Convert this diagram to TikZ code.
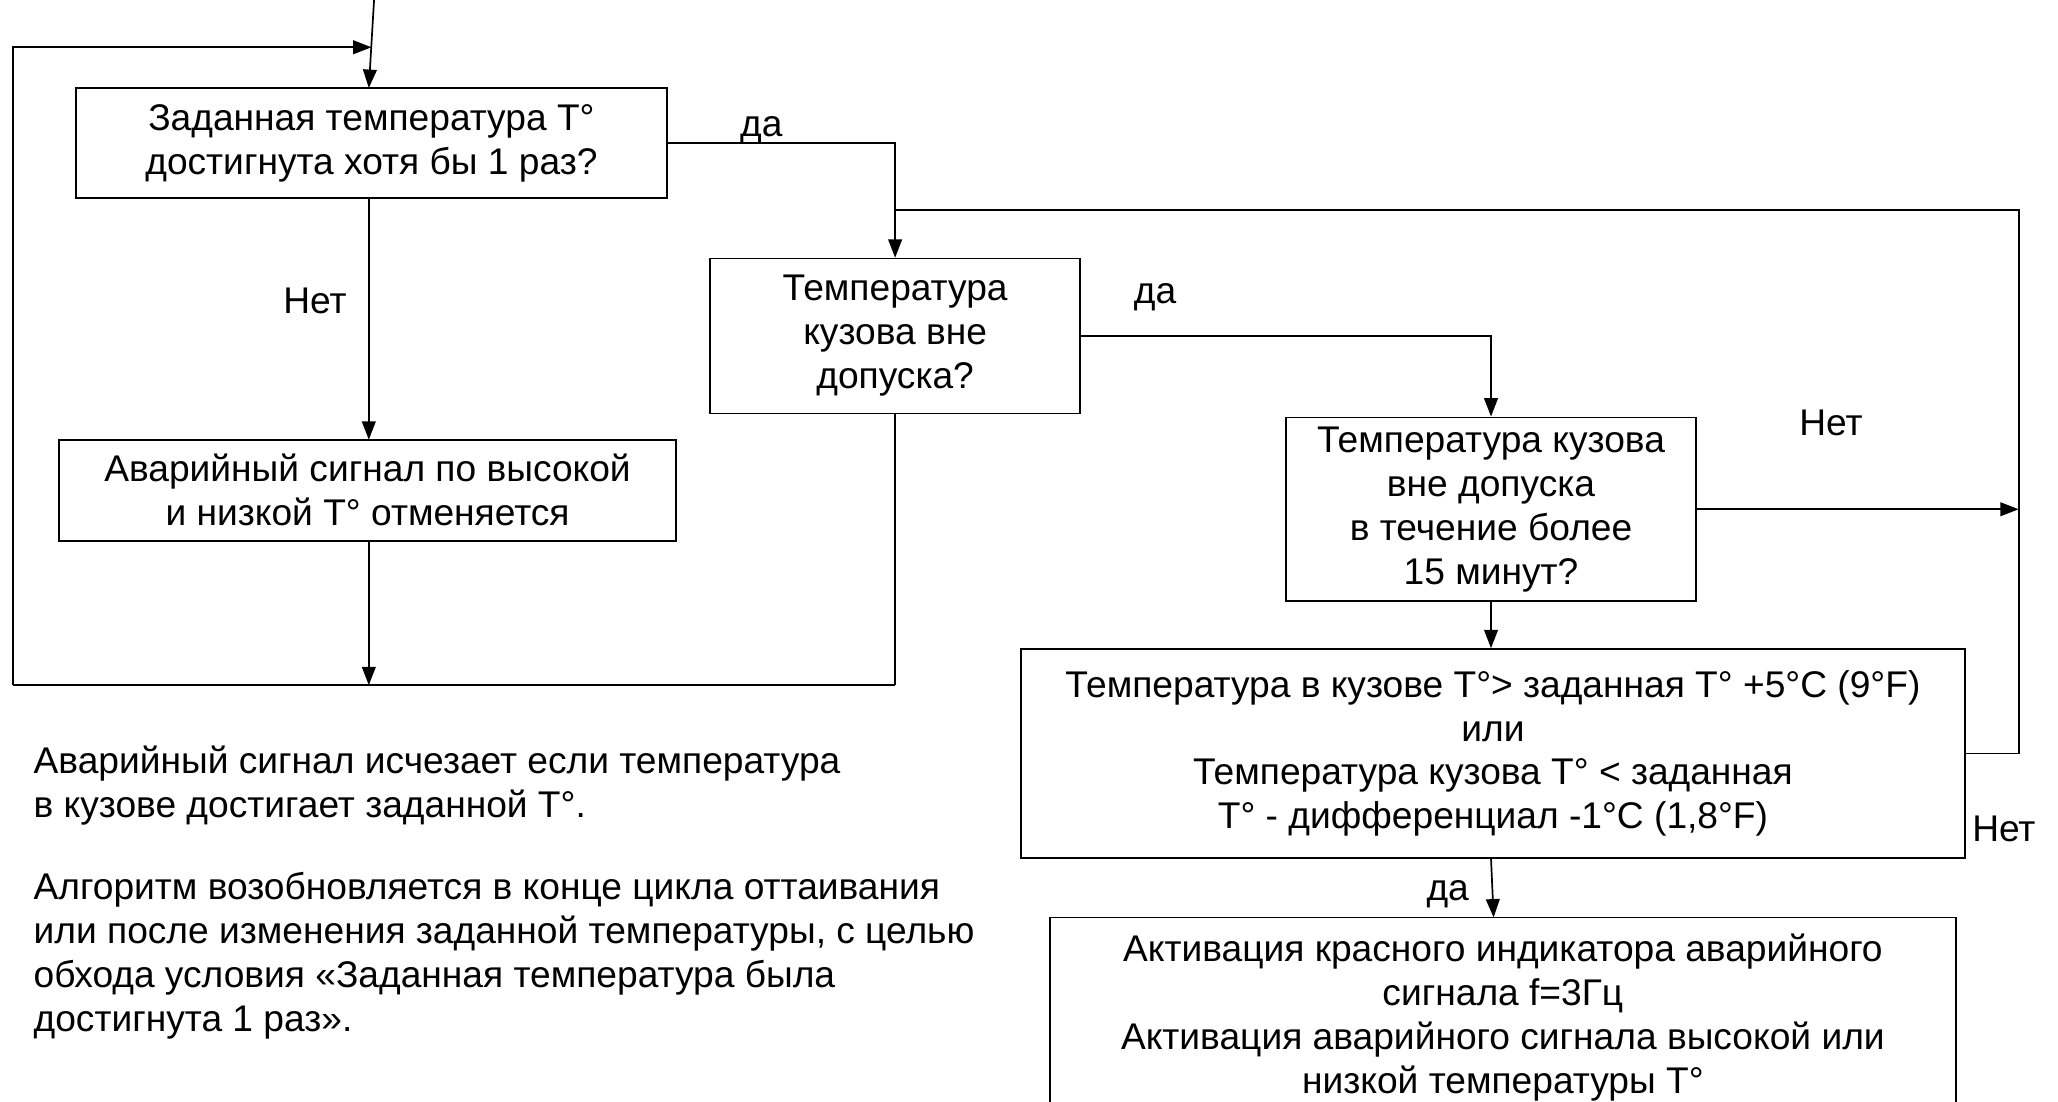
\documentclass[tikz,border=0pt]{standalone}
\usepackage{fontspec}
\setmainfont{Liberation Sans}
\usetikzlibrary{arrows.meta,calc}
\begin{document}
\begin{tikzpicture}[x=1pt,y=-1pt,
  line width=1.3pt,
  every node/.style={font=\fontsize{28.3}{33.5}\selectfont, inner sep=0pt},
  box/.style={draw, rectangle, align=center},
  arr/.style={-{Triangle[length=14pt,width=10.5pt]}},
  lbl/.style={anchor=base}]
\useasboundingbox (0,0) rectangle (1568,839);
% boxes
\node[box, minimum width=450pt, minimum height=84pt] (b1) at (283,109)
  {Заданная температура T°\\достигнута хотя бы 1 раз?};
\node[box, minimum width=470pt, minimum height=77pt] (b3) at (280,373.5)
  {Аварийный сигнал по высокой\\и низкой T° отменяется};
\node[box, minimum width=282pt, minimum height=118pt] (b2) at (682,256)
  {Температура\\кузова вне\\допуска?};
\node[box, minimum width=312pt, minimum height=140pt] (b4) at (1136,388)
  {Температура кузова\\вне допуска\\в течение более\\15 минут?};
\node[box, minimum width=719pt, minimum height=159pt] (b5) at (1137.5,574)
  {Температура в кузове T°> заданная T° +5°C (9°F)\\или\\Температура кузова T° < заданная\\T° - дифференциал -1°C (1,8°F)};
\coordinate (b6top) at (1138,699);
\node[align=center, anchor=north] (b6) at (1145,711)
  {Активация красного индикатора аварийного\\сигнала f=3Гц\\Активация аварийного сигнала высокой или\\низкой температуры T°};
\draw (800,900) -- (800,699) -- (1490,699) -- (1490,900);
% coordinates
\coordinate (entry) at (285,0);
\coordinate (LL) at (10,522);
\coordinate (LT) at (10,36);
\coordinate (J) at (283,36);
\coordinate (RB) at (682,522);
\coordinate (R1) at (682,160);
\coordinate (R2) at (1538,160);
% connectors
\draw[arr] (entry) -- (281,67);
\draw[arr] (LL) -- (LT) -- (J);
\draw (LL) -- (RB);
\draw (b2.south) -- (RB);
\draw[arr] (281,151) -- (281,335);
\draw[arr] (281,412) -- (281,522);
\draw[arr] (b1.east) -| (b2.north);
\draw (R1) -- (R2) -- (R2 |- b5.east) -- (b5.east);
\draw[arr] (b2.east) -| (b4.north);
\draw[arr] (b4.east) -- (b4.east -| R2);
\draw[arr] (b4.south) -- (b4.south |- b5.north);
\draw[arr] (b5.south -| b4.south) -- (b6top);
% labels
\node[lbl] (l1) at (580,104) {да};
\node[lbl] (l2) at (880,231) {да};
\node[lbl] (l3) at (240,239) {Нет};
\node[lbl] (l4) at (1395,332) {Нет};
\node[anchor=base west] (l5) at (1502,641) {Нет};
\node[lbl] (l6) at (1103,686) {да};
% notes
\node[anchor=base west, align=left] (n1) at (25,622.5)
  {Аварийный сигнал исчезает если температура\\в кузове достигает заданной T°.};
\node[anchor=base west, align=left] (n2) at (25,786)
  {Алгоритм возобновляется в конце цикла оттаивания\\или после изменения заданной температуры, с целью\\обхода условия «Заданная температура была\\достигнута 1 раз».};
\end{tikzpicture}
\end{document}
